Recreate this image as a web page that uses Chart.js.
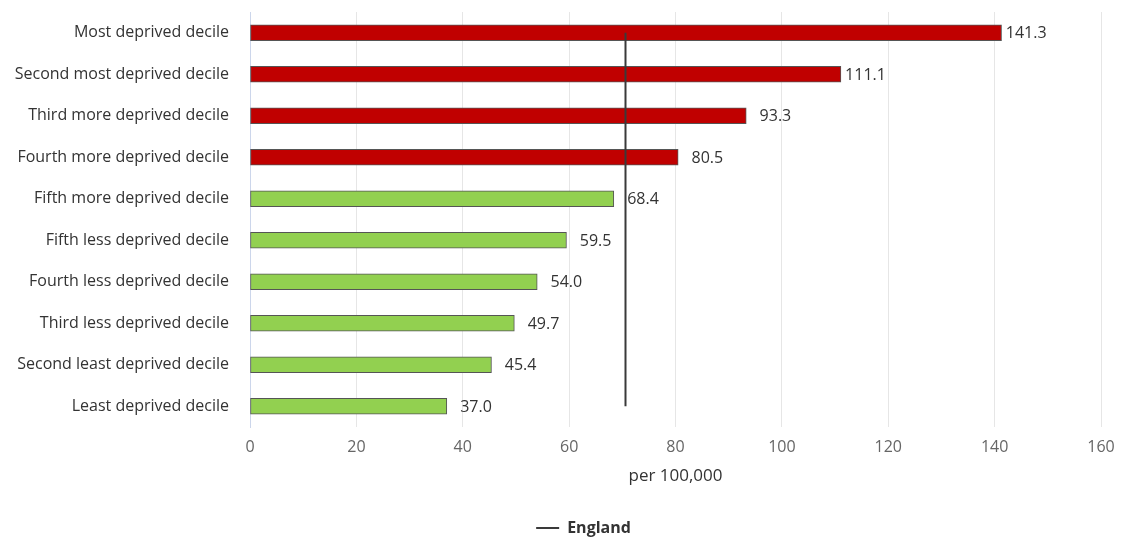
<!DOCTYPE html>
<html>
<head>
<meta charset="utf-8">
<script src="https://cdn.jsdelivr.net/npm/chart.js@4/dist/chart.umd.min.js"></script>
<style>
  html, body { margin: 0; padding: 0; background: #fff; }
  #wrap { width: 1121px; height: 538px; }
</style>
</head>
<body>
<div id="wrap"><canvas id="decileChart"></canvas></div>
<script>
const categories = [
    'Most deprived decile',
    'Second most deprived decile',
    'Third more deprived decile',
    'Fourth more deprived decile',
    'Fifth more deprived decile',
    'Fifth less deprived decile',
    'Fourth less deprived decile',
    'Third less deprived decile',
    'Second least deprived decile',
    'Least deprived decile'
];
const values = [141.3, 111.1, 93.3, 80.5, 68.4, 59.5, 54.0, 49.7, 45.4, 37.0];
const comparison = ['worse', 'worse', 'worse', 'worse', 'better', 'better', 'better', 'better', 'better', 'better'];
const england = [70.6, 70.6, 70.6, 70.6, 70.6, 70.6, 70.6, 70.6, 70.6, 70.6];
const xTicks = [0, 20, 40, 60, 80, 100, 120, 140, 160];

const FONT = '"Open Sans", "Noto Sans", sans-serif';
const colours = { worse: '#c00000', better: '#92d050' };

// value labels, right aligned in a box after each bar
const valueLabels = {
    id: 'valueLabels',
    afterDatasetsDraw(chart) {
        const ctx = chart.ctx;
        const meta = chart.getDatasetMeta(0);
        ctx.save();
        ctx.font = '16px ' + FONT;
        ctx.fillStyle = '#333333';
        ctx.textAlign = 'right';
        ctx.textBaseline = 'middle';
        meta.data.forEach((bar, i) => {
            ctx.fillText(values[i].toFixed(1), bar.x + 45, bar.y + 1);
        });
        ctx.restore();
    }
};

// legend sits a bit right of the canvas centre
const legendShift = {
    id: 'legendShift',
    afterLayout(chart) {
        chart.legend.left += 66;
    }
};

new Chart(document.getElementById('decileChart'), {
    type: 'bar',
    data: {
        labels: categories,
        datasets: [{
            label: 'Rate',
            data: values,
            backgroundColor: comparison.map(c => colours[c]),
            borderColor: '#555555',
            borderWidth: 1,
            borderSkipped: false,
            barThickness: 16,
            order: 2
        }, {
            type: 'line',
            label: 'England',
            data: england,
            indexAxis: 'y',
            borderColor: '#3a3a3a',
            backgroundColor: '#3a3a3a',
            borderWidth: 2,
            pointRadius: 0,
            pointStyle: 'line',
            fill: false,
            order: 1
        }]
    },
    options: {
        indexAxis: 'y',
        responsive: true,
        maintainAspectRatio: false,
        animation: false,
        layout: { padding: { top: 12, right: 20, left: 0, bottom: -8 } },
        scales: {
            x: {
                min: 0,
                max: 160,
                afterBuildTicks(scale) {
                    scale.ticks = xTicks.map(v => ({ value: v }));
                },
                afterFit(scale) {
                    scale.height = 90;
                    scale.paddingLeft = 0;
                    scale.paddingRight = 0;
                },
                grid: { color: '#e6e6e6', drawTicks: false },
                border: { display: false },
                ticks: {
                    padding: 11,
                    color: '#666666',
                    font: { family: FONT, size: 16 }
                },
                title: {
                    display: true,
                    text: 'per 100,000',
                    color: '#333333',
                    font: { family: FONT, size: 17 },
                    padding: { top: 4, bottom: 31 }
                }
            },
            y: {
                afterFit(scale) {
                    scale.width = 250;
                    scale.paddingTop = 0;
                    scale.paddingBottom = 0;
                },
                grid: { display: false, drawTicks: false },
                border: { display: true, color: '#ccd6eb', width: 1 },
                ticks: {
                    padding: 21,
                    color: '#333333',
                    font: { family: FONT, size: 16 }
                }
            }
        },
        plugins: {
            legend: {
                position: 'bottom',
                labels: {
                    filter: item => item.text === 'England',
                    usePointStyle: true,
                    pointStyleWidth: 23,
                    padding: 3,
                    color: '#333333',
                    font: { family: FONT, size: 16, weight: 'bold' }
                }
            },
            tooltip: { enabled: false }
        }
    },
    plugins: [valueLabels, legendShift]
});
</script>
</body>
</html>
